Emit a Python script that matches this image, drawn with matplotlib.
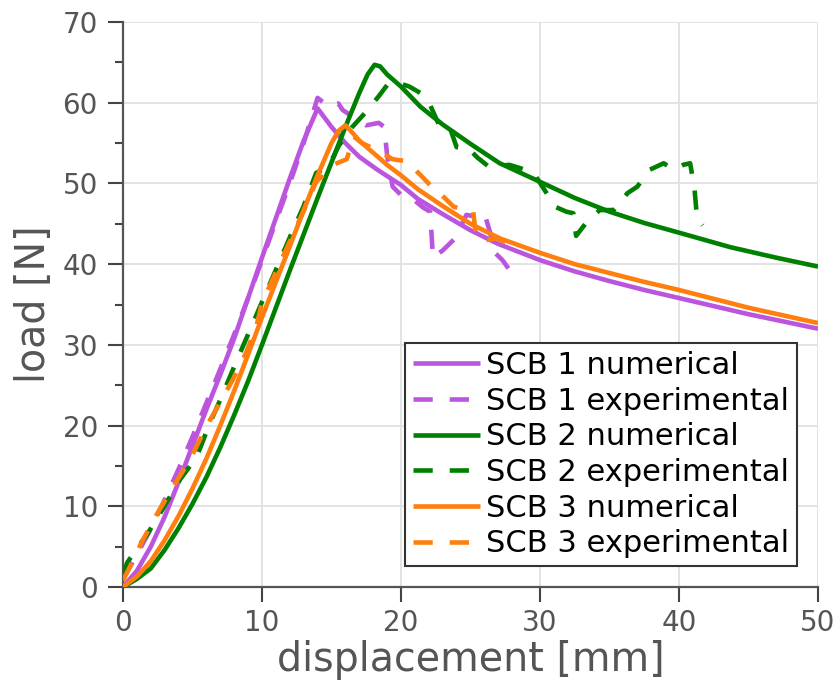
import matplotlib
matplotlib.use("Agg")
import matplotlib.pyplot as plt
from matplotlib.ticker import MultipleLocator

# ---------------- data ----------------
scb1_num_x = [0, 1, 2, 3, 4, 5, 6, 7, 8, 9, 10, 11, 12, 13, 14,
              15, 16, 17, 18.3, 20, 21.2, 23, 25, 27, 30, 32.5, 35, 37.5, 40, 45, 50]
scb1_num_y = [0, 2.0, 5.0, 8.7, 13.0, 17.5, 22.0, 26.3, 30.8, 35.8, 40.8, 45.7, 50.6, 55.3, 59.3,
              57.0, 55.0, 53.3, 51.7, 49.8, 48.1, 46.2, 44.2, 42.5, 40.5, 39.1, 37.9, 36.8, 35.8,
              33.8, 32.0]

scb1_exp_x = [0, 0.5, 1, 2, 3, 4, 5, 6, 7, 8, 9, 10, 11, 12, 13, 13.5, 14.0, 14.8, 15.5, 15.8,
              16.5, 17.5, 18.4, 18.8, 19.0, 19.4, 20.1, 20.9, 21.6, 22.1, 22.3, 23.0, 23.9, 24.7,
              25.4, 26.0, 26.4, 26.7, 27.3, 27.8, 28.0]
scb1_exp_y = [1.0, 2.5, 4.0, 7.2, 10.8, 14.6, 18.6, 22.8, 27.0, 31.3, 35.8, 40.5, 45.3, 50.0, 55.0,
              57.8, 60.6, 59.5, 59.9, 59.1, 58.3, 57.2, 57.5, 57.0, 53.5, 49.6, 48.4, 48.0, 47.0,
              46.5, 40.8, 41.7, 43.2, 46.1, 45.9, 46.3, 44.0, 41.5, 40.5, 39.3, 39.0]

scb2_num_x = [0, 1, 2, 3, 4, 5, 6, 7, 8, 9, 10, 11, 12, 13, 14, 15, 16, 17, 17.6, 18.1, 18.5,
              19, 20, 21.4, 23, 25, 27.1, 30, 32.5, 35, 37.5, 40, 43.7, 47, 50]
scb2_num_y = [0, 1.0, 2.3, 4.6, 7.3, 10.3, 13.6, 17.3, 21.3, 25.5, 30.0, 34.6, 39.2, 43.7, 48.2,
              52.6, 57.0, 61.2, 63.5, 64.7, 64.5, 63.5, 62.0, 59.5, 57.3, 54.9, 52.5, 50.2, 48.2,
              46.5, 45.1, 43.9, 42.1, 40.8, 39.7]

scb2_exp_x = [0, 0.3, 1, 1.7, 2.8, 4.1, 5.3, 6.2, 7, 8, 9, 10, 11, 12, 13, 13.9, 14.8, 15.5,
              16.5, 17.4, 18.4, 19.1, 19.9, 20.6, 21.4, 22.1, 22.8, 23.5, 24.0, 24.8, 25.5, 26.3,
              27.8, 29.5, 30.4, 31.1, 31.9, 32.4, 32.6, 33.4, 34.3, 35.3, 36.3, 37.0, 37.9, 38.9,
              39.6, 40.3, 40.8, 41.1, 41.3, 41.7]
scb2_exp_y = [1.5, 3.0, 4.8, 6.4, 9.5, 13.3, 16.1, 20.1, 23.2, 27.3, 31.3, 35.3, 39.3, 43.3, 47.2,
              51.3, 52.1, 54.6, 57.0, 58.7, 60.8, 62.4, 62.4, 62.0, 61.2, 59.7, 57.0, 57.0, 54.5,
              54.4, 53.2, 52.1, 52.3, 51.4, 49.0, 47.1, 46.5, 46.3, 43.5, 45.3, 46.7, 46.7, 48.8,
              49.6, 51.7, 52.5, 51.7, 52.3, 52.5, 49.6, 45.7, 44.8]

scb3_num_x = [0, 1, 2, 3, 4, 5, 6, 7, 8, 9, 10, 11, 12, 13, 14, 15, 15.5, 16, 16.5, 17, 18,
              19, 20, 21.2, 23, 25, 27.1, 30, 32.5, 35, 37.5, 40, 45, 50]
scb3_num_y = [0, 1.3, 3.2, 5.8, 8.8, 12.2, 15.9, 20.0, 24.3, 28.8, 33.4, 37.8, 42.2, 46.7, 51.0,
              55.0, 56.5, 57.2, 56.3, 55.3, 53.8, 52.3, 51.0, 49.3, 47.2, 45.0, 43.2, 41.4, 40.0,
              38.9, 37.8, 36.8, 34.6, 32.7]

scb3_exp_x = [0, 0.5, 1.3, 2.5, 3.6, 4.8, 6.0, 7.0, 7.9, 8.85, 9.6, 10.0, 11, 12, 13, 13.9,
              14.5, 15.1, 16.1, 16.6, 17.2, 18.4, 19.4, 20.2, 20.9, 21.6, 22.2, 22.9, 23.8, 24.6,
              25.2, 25.4, 26.2, 26.9, 27.6, 28.0]
scb3_exp_y = [0.8, 2.5, 5.4, 9.2, 12.4, 15.7, 19.9, 22.9, 25.7, 29.0, 32.3, 35.2, 39.0, 42.8,
              46.6, 50.2, 51.2, 52.3, 53.0, 55.8, 55.0, 54.0, 53.0, 52.8, 51.9, 50.7, 49.6, 48.6,
              47.1, 46.8, 46.5, 43.4, 43.0, 43.2, 42.6, 42.3]

labels = ["SCB 1 numerical", "SCB 1 experimental",
          "SCB 2 numerical", "SCB 2 experimental",
          "SCB 3 numerical", "SCB 3 experimental"]
colors = ["#bb55dd", "#008000", "#ff7f0e"]

x_ticks = [0, 10, 20, 30, 40, 50]
y_ticks = [0, 10, 20, 30, 40, 50, 60, 70]

# ---------------- figure ----------------
plt.rcParams['font.family'] = ['DejaVu Sans']
fig = plt.figure(figsize=(8.4, 6.96), dpi=100)
ax = fig.add_axes([0.1464, 0.1566, 0.8274, 0.8118])

series = [(scb1_num_x, scb1_num_y, scb1_exp_x, scb1_exp_y),
          (scb2_num_x, scb2_num_y, scb2_exp_x, scb2_exp_y),
          (scb3_num_x, scb3_num_y, scb3_exp_x, scb3_exp_y)]
lw = 3.3
for i, (nx, ny, ex, ey) in enumerate(series):
    ax.plot(nx, ny, color=colors[i], lw=lw, solid_capstyle='butt',
            label=labels[2 * i], zorder=3)
    ax.plot(ex, ey, color=colors[i], lw=lw, linestyle=(0, (4.2, 3.7)),
            dash_capstyle='butt', label=labels[2 * i + 1], zorder=3)

ax.set_xlim(0, 50)
ax.set_ylim(0, 70)
ax.set_xticks(x_ticks)
ax.set_yticks(y_ticks)
ax.yaxis.set_minor_locator(MultipleLocator(5))

ax.grid(True, which='major', color='#e0e0e0', lw=1.3, zorder=0)
ax.set_axisbelow(True)

for s in ['top', 'right']:
    ax.spines[s].set_visible(False)
for s in ['left', 'bottom']:
    ax.spines[s].set_color('#555555')
    ax.spines[s].set_linewidth(1.6)

ax.tick_params(axis='both', which='major', direction='out', length=11, width=1.5,
               color='#444444', labelcolor='#555555', labelsize=20)
ax.tick_params(axis='y', which='major', pad=7)
ax.tick_params(axis='x', which='major', pad=5)
ax.tick_params(axis='y', which='minor', direction='out', length=5.5, width=1.5,
               color='#444444')

ax.set_xlabel("displacement [mm]", fontsize=28.5, color='#555555', labelpad=2)
ax.set_ylabel("load [N]", fontsize=28.5, color='#555555', labelpad=6)

leg = ax.legend(loc='lower right', bbox_to_anchor=(0.97, 0.037), borderaxespad=0,
                fontsize=22, fancybox=False, framealpha=1, edgecolor='#333333',
                handlelength=2.2, handletextpad=0.2, labelspacing=0.22,
                borderpad=0.25)
leg.get_frame().set_linewidth(1.5)
for t in leg.get_texts():
    t.set_color('black')

fig.savefig("out.png", dpi=100)
